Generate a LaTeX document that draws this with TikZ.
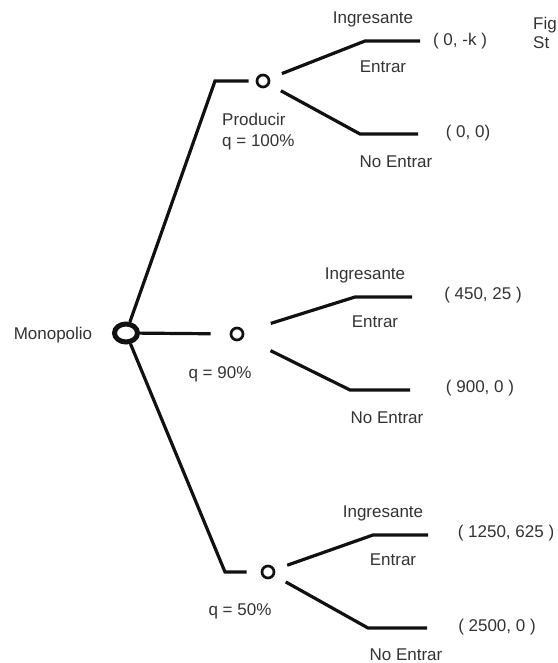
\documentclass[tikz,border=0pt]{standalone}
\usepackage{fontspec}
\setmainfont{Liberation Sans}
\usetikzlibrary{shapes.geometric}
\definecolor{TreeInk}{HTML}{111111}
\definecolor{TreeText}{HTML}{333333}
\tikzset{
  rootnode/.style={ellipse,draw=TreeInk,line width=5pt,minimum width=23pt,minimum height=18pt,inner sep=0pt},
  chancenode/.style={circle,draw=TreeInk,line width=2.7pt,minimum size=12pt,inner sep=0pt},
  lbl/.style={text=TreeText,font=\fontsize{17}{21}\selectfont,inner sep=0pt},
  stem/.style={line width=3.2pt,draw=TreeInk},
  move/.style={line width=3.2pt,draw=TreeInk,shorten <=13pt}
}

\begin{document}
\begin{tikzpicture}[x=1pt,y=-1pt]
\fill[white] (0,0) rectangle (557,663);
\useasboundingbox (0,0) rectangle (557,663);
\node[rootnode] (root) at (126,333) {};
\node[lbl] (mono) at (53,335) {Monopolio};
\node[chancenode] (c1) at (263,81) {};
\node[chancenode] (c2) at (237,334) {};
\node[chancenode] (c3) at (268,572) {};
\coordinate (k1) at (215,81);
\coordinate (k3) at (225,572);
\coordinate (u1) at (365,41);
\coordinate (e1) at (420,41);
\coordinate (d1) at (360,134);
\coordinate (f1) at (418,134);
\coordinate (u2) at (355,297);
\coordinate (e2) at (412,297);
\coordinate (d2) at (350,390);
\coordinate (f2) at (410,390);
\coordinate (u3) at (373,535);
\coordinate (e3) at (428,535);
\coordinate (d3) at (368,628);
\coordinate (f3) at (427,628);
\draw[stem,shorten >=7pt] (root) -- (k1) -- (c1);
\draw[stem,shorten >=19pt] (root) -- (c2);
\draw[stem,shorten >=14pt] (root) -- (k3) -- (c3);
\draw[move] (c1) -- (u1) -- (e1);
\draw[move] (c1) -- (d1) -- (f1);
\draw[move,shorten <=28pt] (c2) -- (u2) -- (e2);
\draw[move,shorten <=30pt] (c2) -- (d2) -- (f2);
\draw[move] (c3) -- (u3) -- (e3);
\draw[move] (c3) -- (d3) -- (f3);
\node[lbl,anchor=west,align=left] (prod) at (222,132) {Producir\\q = 100\%};
\node[lbl] (ing1) at (373,19) {Ingresante};
\node[lbl] (ent1) at (383,67) {Entrar};
\node[lbl] (no1) at (396,162) {No Entrar};
\node[lbl] (pay1a) at (460,41) {( 0, -k )};
\node[lbl] (pay1b) at (468,133) {( 0, 0)};
\node[lbl,anchor=west,align=left,font=\fontsize{17}{19}\selectfont] (fig) at (533,33) {Fig\\St};
\node[lbl] (q2) at (220,374) {q = 90\%};
\node[lbl] (ing2) at (365,275) {Ingresante};
\node[lbl] (ent2) at (375,322) {Entrar};
\node[lbl] (no2) at (387,418) {No Entrar};
\node[lbl] (pay2a) at (483,295) {( 450, 25 )};
\node[lbl] (pay2b) at (480,388) {( 900, 0 )};
\node[lbl] (q3) at (240,611) {q = 50\%};
\node[lbl] (ing3) at (383,513) {Ingresante};
\node[lbl] (ent3) at (393,560) {Entrar};
\node[lbl] (no3) at (406,655) {No Entrar};
\node[lbl] (pay3a) at (506,533) {( 1250, 625 )};
\node[lbl] (pay3b) at (497,627) {( 2500, 0 )};
\end{tikzpicture}
\end{document}
